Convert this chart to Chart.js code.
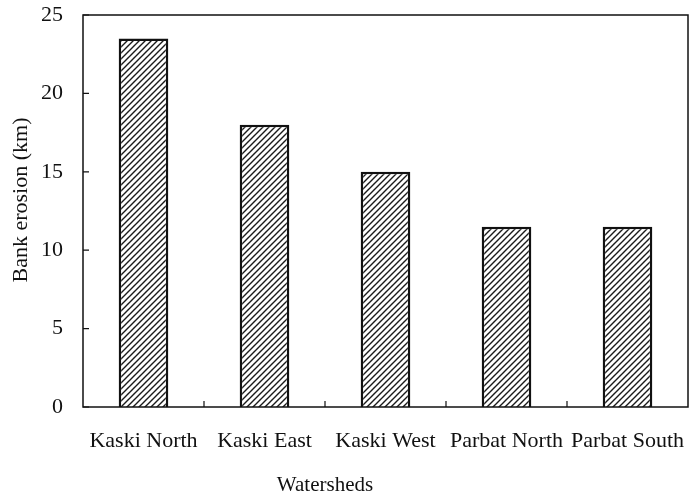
<!DOCTYPE html>
<html lang="en">
<head>
    <meta charset="UTF-8">
    <script src="https://cdn.jsdelivr.net/npm/chart.js"></script>
    <title>Bank erosion</title>
</head>
<style>
    body { margin: 0; background: #fff; }
    .chart-container { width: 690px; height: 499px; position: relative; }
</style>
<body>
<div class="chart-container">
    <canvas id="erosion"></canvas>
</div>
<script>
    const watersheds = ['Kaski North', 'Kaski East', 'Kaski West', 'Parbat North', 'Parbat South'];
    const bankErosion = [23.5, 18, 15, 11.5, 11.5];
    const yTicks = [0, 5, 10, 15, 20, 25];
    const xTitle = 'Watersheds';
    const yTitle = 'Bank erosion (km)';

    // diagonal hatch fill
    function hatch() {
        const c = document.createElement('canvas');
        c.width = 6; c.height = 6;
        const g = c.getContext('2d');
        g.fillStyle = '#fff';
        g.fillRect(0, 0, 6, 6);
        g.strokeStyle = '#1a1a1a';
        g.lineWidth = 1.4;
        g.beginPath();
        g.moveTo(-1, 7); g.lineTo(7, -1);
        g.moveTo(-1, 1); g.lineTo(1, -1);
        g.moveTo(5, 7); g.lineTo(7, 5);
        g.stroke();
        return g.createPattern(c, 'repeat');
    }

    const serif = "'Liberation Serif', 'Times New Roman', serif";

    // frame, inward tick marks and axis titles
    const frame = {
        id: 'frame',
        afterDraw(chart) {
            const {ctx, chartArea: a, scales} = chart;
            ctx.save();
            ctx.strokeStyle = '#111';
            ctx.lineWidth = 1.5;
            ctx.strokeRect(a.left, a.top, a.right - a.left, a.bottom - a.top);
            ctx.lineWidth = 1.2;
            ctx.beginPath();
            yTicks.forEach(v => {
                const y = scales.y.getPixelForValue(v);
                ctx.moveTo(a.left, y); ctx.lineTo(a.left + 6, y);
            });
            for (let i = 0; i < watersheds.length - 1; i++) {
                const x = (scales.x.getPixelForValue(i) + scales.x.getPixelForValue(i + 1)) / 2;
                ctx.moveTo(x, a.bottom); ctx.lineTo(x, a.bottom - 6);
            }
            ctx.stroke();

            ctx.fillStyle = '#111';
            ctx.textAlign = 'center';
            ctx.textBaseline = 'middle';
            ctx.font = '21px ' + serif;
            ctx.fillText(xTitle, scales.x.getPixelForValue(1.5), 485);
            ctx.translate(21, scales.y.getPixelForValue(13.2));
            ctx.rotate(-Math.PI / 2);
            ctx.font = '22px ' + serif;
            ctx.fillText(yTitle, 0, 0);
            ctx.restore();
        }
    };

    new Chart(document.getElementById('erosion'), {
        type: 'bar',
        data: {
            labels: watersheds,
            datasets: [{
                data: bankErosion,
                backgroundColor: hatch(),
                borderColor: '#111',
                borderWidth: 2.5,
                barPercentage: 0.41,
                categoryPercentage: 1
            }]
        },
        options: {
            responsive: true,
            maintainAspectRatio: false,
            animation: false,
            layout: { padding: { top: 15, right: 2, left: 0, bottom: 0 } },
            plugins: { legend: { display: false }, tooltip: { enabled: false } },
            scales: {
                x: {
                    afterFit: s => { s.height = 92; s.paddingLeft = 0; s.paddingRight = 0; },
                    grid: { display: false, drawTicks: false },
                    border: { display: false },
                    ticks: { color: '#111', padding: 21, font: { family: serif, size: 22 }, maxRotation: 0, autoSkip: false }
                },
                y: {
                    min: 0, max: 25,
                    afterFit: s => { s.width = 83; s.paddingTop = 0; s.paddingBottom = 0; },
                    afterBuildTicks: s => { s.ticks = yTicks.map(v => ({ value: v })); },
                    grid: { display: false, drawTicks: false },
                    border: { display: false },
                    ticks: { color: '#111', padding: 20, font: { family: serif, size: 22 } }
                }
            }
        },
        plugins: [frame]
    });
</script>
</body>
</html>
